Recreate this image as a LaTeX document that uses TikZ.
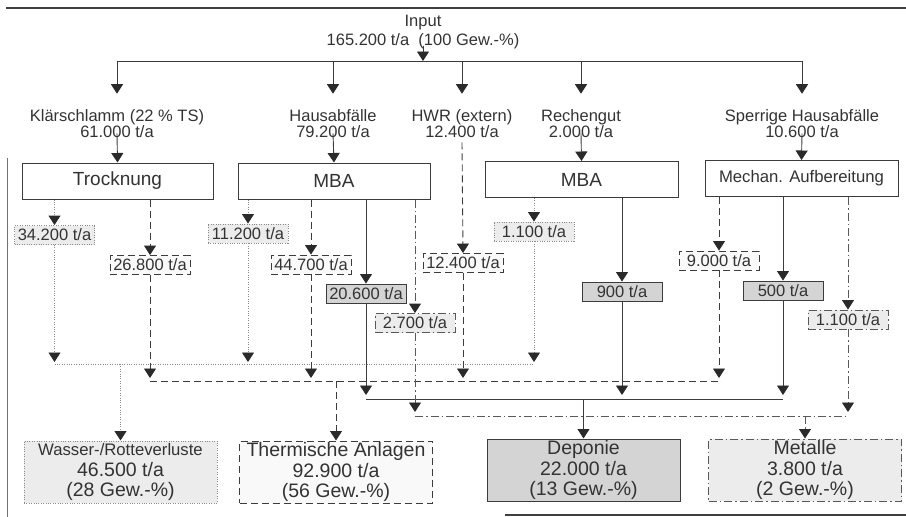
\documentclass[tikz,border=0pt]{standalone}
\usepackage{fontspec}
\setmainfont{Liberation Sans}
\usetikzlibrary{arrows.meta}
\definecolor{ink}{HTML}{333333}
\definecolor{ln}{HTML}{3C3C3C}
\definecolor{tipcol}{HTML}{2A2A2A}
\definecolor{dotln}{HTML}{8A8A8A}
\definecolor{darkfill}{HTML}{D4D4D4}
\definecolor{lightfill}{HTML}{ECECEC}
\definecolor{whitefill}{HTML}{F9F9F9}
\tikzset{
  lbl/.style={font=\fontsize{16.5}{16}\selectfont, text=ink, align=center, inner sep=0pt},
  proc/.style={draw=ln, line width=1pt, fill=white, minimum height=36pt, text=ink, inner sep=0pt},
  flow/.style={line width=0.9pt, minimum width=80pt, minimum height=19pt, inner sep=0pt,
               text=ink, font=\fontsize{16.5}{18}\selectfont},
  sink/.style={line width=1pt, minimum width=193pt, minimum height=62pt, inner sep=0pt,
               text=ink, align=center, font=\fontsize{19.5}{20.5}\selectfont},
  dotsty/.style={draw=dotln, dash pattern=on 1pt off 1.4pt},
  dashsty/.style={draw=ln, dash pattern=on 7pt off 4pt},
  solidsty/.style={draw=ln},
  dashdotsty/.style={draw=ln!85, dash pattern=on 8pt off 3pt on 1.5pt off 3pt},
  arr/.style={-{Triangle[width=12pt,length=9.5pt,color=tipcol]}, line width=0.9pt},
}
\begin{document}
\begin{tikzpicture}[x=1pt,y=-1pt]
\useasboundingbox (0,0) rectangle (906,517);
% scan frame lines
\draw[line width=1.3pt, black!75] (6,8) -- (906,8);
\draw[line width=1pt, black!55] (7,158) -- (7,517);
\draw[line width=1.3pt, black!75] (505,515) -- (906,515);

% input
\node[lbl] (input) at (423,32.5) {Input\\[3pt]165.200 t/a\ \ (100 Gew.-\%)};
\coordinate (bar) at (0,61);

% source labels
\node[lbl] (kl) at (117,124) {Klärschlamm (22 \% TS)\\61.000 t/a};
\node[lbl] (ha) at (333,124) {Hausabfälle\\79.200 t/a};
\node[lbl] (hw) at (462,124) {HWR (extern)\\12.400 t/a};
\node[lbl] (re) at (581,124) {Rechengut\\2.000 t/a};
\node[lbl] (sp) at (802,124) {Sperrige Hausabfälle\\10.600 t/a};

\draw[ln, line width=0.9pt] (kl.north |- bar) -- (sp.north |- bar);
\draw[ln, arr] ([yshift=4pt]input.south) -- (input.south |- bar);
\foreach \n in {kl,ha,hw,re,sp}
  \draw[ln, arr, shorten >=16pt] (\n.north |- bar) -- (\n.north);

% process boxes
\node[proc, minimum width=191pt, font=\fontsize{19}{20}\selectfont] (troc) at (117.5,181) {Trocknung};
\node[proc, minimum width=192pt, font=\fontsize{19}{20}\selectfont] (mba1) at (334,181) {MBA};
\node[proc, minimum width=193pt, font=\fontsize{19}{20}\selectfont] (mba2) at (581.5,179.5) {MBA};
\node[proc, minimum width=193pt, font=\fontsize{16.7}{18}\selectfont] (mech) at (801.5,178.5) {Mechan. Aufbereitung};

\foreach \n/\b in {kl/troc,ha/mba1,re/mba2,sp/mech}
  \draw[ln, arr] ([yshift=5pt]\n.south) -- (\b.north);

% flow labels
\node[flow, dotsty, fill=lightfill] (t1) at (54.5,235) {34.200 t/a};
\node[flow, dashsty, fill=whitefill] (t2) at (150,265) {26.800 t/a};
\node[flow, dotsty, fill=lightfill] (m1) at (248,233.5) {11.200 t/a};
\node[flow, dashsty, fill=whitefill] (m2) at (311,264.5) {44.700 t/a};
\node[flow, solidsty, fill=darkfill] (m3) at (366,293.5) {20.600 t/a};
\node[flow, dashdotsty, fill=lightfill] (m4) at (415,323) {2.700 t/a};
\node[flow, dashsty, fill=whitefill] (h1) at (463,263) {12.400 t/a};
\node[flow, dotsty, fill=lightfill] (r1) at (534,231.5) {1.100 t/a};
\node[flow, solidsty, fill=darkfill] (r2) at (622,291.5) {900 t/a};
\node[flow, dashsty, fill=whitefill] (s1) at (719,260.5) {9.000 t/a};
\node[flow, solidsty, fill=darkfill] (s2) at (783,290.5) {500 t/a};
\node[flow, dashdotsty, fill=lightfill] (s3) at (848,319.5) {1.100 t/a};

% box -> flow label arrows
\draw[arr, dotsty] (t1.north |- troc.south) -- (t1.north);
\draw[arr, dashsty] (t2.north |- troc.south) -- (t2.north);
\draw[arr, dotsty] (m1.north |- mba1.south) -- (m1.north);
\draw[arr, dashsty] (m2.north |- mba1.south) -- (m2.north);
\draw[arr, solidsty] (m3.north |- mba1.south) -- (m3.north);
\draw[arr, dashdotsty] (m4.north |- mba1.south) -- (m4.north);
\draw[arr, dashsty] ([yshift=-4pt]hw.south) -- (h1.north);
\draw[arr, dotsty] (r1.north |- mba2.south) -- (r1.north);
\draw[arr, solidsty] (r2.north |- mba2.south) -- (r2.north);
\draw[arr, dashsty] (s1.north |- mech.south) -- (s1.north);
\draw[arr, solidsty] (s2.north |- mech.south) -- (s2.north);
\draw[arr, dashdotsty] (s3.north |- mech.south) -- (s3.north);

% sinks
\node[sink, dotsty, fill=lightfill] (wass) at (120.5,472) {{\fontsize{16.7}{20.5}\selectfont Wasser-/Rotteverluste}\\46.500 t/a\\(28 Gew.-\%)};
\node[sink, dashsty, fill=whitefill] (therm) at (336,472) {Thermische Anlagen\\92.900 t/a\\(56 Gew.-\%)};
\node[sink, solidsty, fill=darkfill] (depo) at (583.5,470) {Deponie\\22.000 t/a\\(13 Gew.-\%)};
\node[sink, dashdotsty, fill=lightfill] (metal) at (805,470) {Metalle\\3.800 t/a\\(2 Gew.-\%)};

% collection bars
\coordinate (cdot) at (0,364);
\coordinate (cdash) at (0,381);
\coordinate (csol) at (0,399);
\coordinate (cdd) at (0,416);

% dotted
\foreach \n in {t1,m1,r1}
  \draw[arr, dotsty, shorten >=2pt] (\n.south) -- (\n.south |- cdot);
\draw[dotsty, line width=0.9pt] (t1.south |- cdot) -- (r1.south |- cdot);
\draw[arr, dotsty] (wass.north |- cdot) -- (wass.north);
% dashed
\foreach \n in {t2,m2,h1,s1}
  \draw[arr, dashsty, shorten >=3pt] (\n.south) -- (\n.south |- cdash);
\draw[dashsty, line width=0.9pt] (t2.south |- cdash) -- (s1.south |- cdash);
\draw[arr, dashsty] (therm.north |- cdash) -- (therm.north);
% solid
\foreach \n in {m3,r2,s2}
  \draw[arr, solidsty, shorten >=4pt] (\n.south) -- (\n.south |- csol);
\draw[solidsty, line width=0.9pt] (m3.south |- csol) -- (s2.south |- csol);
\draw[arr, solidsty] (depo.north |- csol) -- (depo.north);
% dash-dot
\foreach \n in {m4,s3}
  \draw[arr, dashdotsty, shorten >=4pt] (\n.south) -- (\n.south |- cdd);
\draw[dashdotsty, line width=0.9pt] (m4.south |- cdd) -- (s3.south |- cdd);
\draw[arr, dashdotsty] (metal.north |- cdd) -- (metal.north);
\end{tikzpicture}
\end{document}
